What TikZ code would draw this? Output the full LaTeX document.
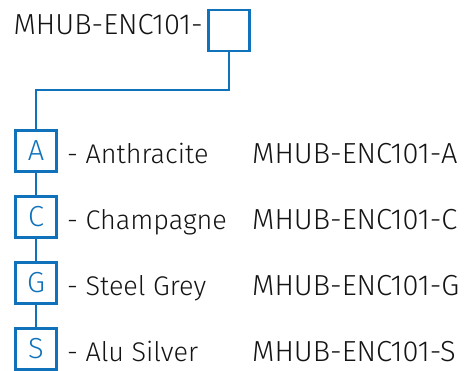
\documentclass[tikz,border=0pt]{standalone}
\usepackage{fontspec}
\setmainfont{Fira Sans}[UprightFont=* Light]
\definecolor{hubblue}{RGB}{16,114,186}
\definecolor{txt}{RGB}{20,20,20}
\begin{document}
\begin{tikzpicture}[x=1pt,y=1pt,
  cbox/.style={draw=hubblue,line width=2.8pt,minimum size=41pt,inner sep=0pt,
    text=hubblue,font=\fontsize{29}{31}\selectfont},
  conn/.style={draw=hubblue,line width=2.8pt},
  lbl/.style={anchor=base west,inner sep=0pt,text=txt,font=\fontsize{27}{29}\selectfont},
  pnum/.style={lbl,font=\fontsize{29}{31}\selectfont}]
\useasboundingbox[clip] (0,0) rectangle (464,371);
\node[cbox] (top) at (229,340.5) {};
\node[pnum,anchor=base east] (toplbl) at (203,336) {MHUB-ENC101-};
\node[cbox] (a) at (36,220) {A};
\node[cbox] (c) at (36,154) {C};
\node[cbox] (g) at (36,88) {G};
\node[cbox] (s) at (36,22) {S};
\coordinate (bend1) at (229,281);
\coordinate (bend2) at (36,281);
\draw[conn] (top.south) -- (bend1) -- (bend2) -- (a.north);
\draw[conn] (a.south) -- (c.north);
\draw[conn] (c.south) -- (g.north);
\draw[conn] (g.south) -- (s.north);
\node[lbl] (da) at (67,207) {- Anthracite};
\node[lbl] (dc) at (67,141) {- Champagne};
\node[lbl] (dg) at (67,75) {- Steel Grey};
\node[lbl] (ds) at (67,9) {- Alu Silver};
\node[pnum] (pa) at (252,207) {MHUB-ENC101-A};
\node[pnum] (pc) at (252,141) {MHUB-ENC101-C};
\node[pnum] (pg) at (252,75) {MHUB-ENC101-G};
\node[pnum] (ps) at (252,9) {MHUB-ENC101-S};
\end{tikzpicture}
\end{document}
